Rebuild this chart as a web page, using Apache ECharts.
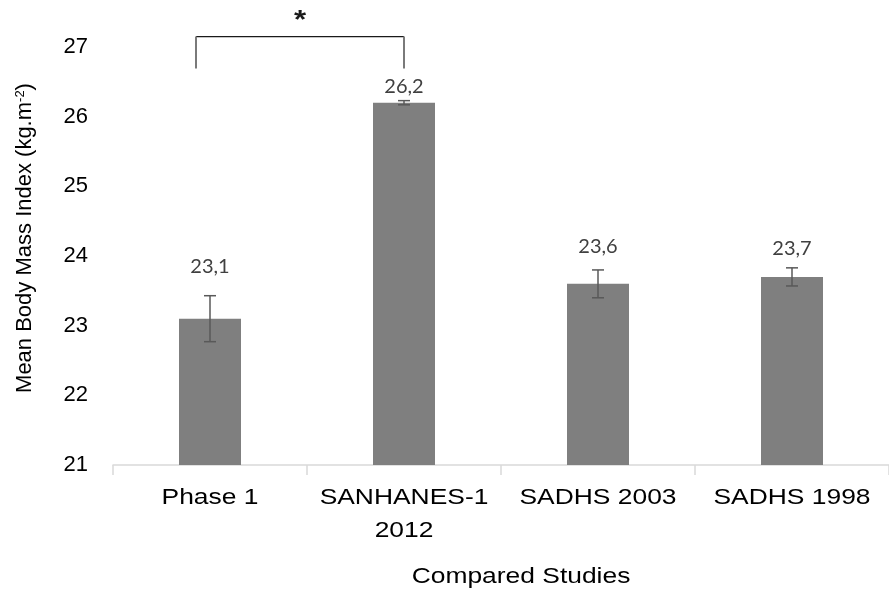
<!DOCTYPE html>
<html>
<head>
<meta charset="utf-8">
<script src="https://cdn.jsdelivr.net/npm/echarts@6/dist/echarts.min.js"></script>
<style>
  html, body { margin: 0; padding: 0; background: #ffffff; }
  #chart { width: 889px; height: 594px; }
</style>
</head>
<body>
<div id="chart"></div>
<script>
// Study names shown along the category axis
const studies = ['Phase 1', 'SANHANES-1\n2012', 'SADHS 2003', 'SADHS 1998'];
// Mean BMI per study (kg.m-2)
const meanBmi = [23.1, 26.2, 23.6, 23.7];
// Half-width of the error bar for each study
const bmiError = [0.33, 0.03, 0.2, 0.13];
// Value-axis range and step
const yMin = 21;
const yMax = 27;
const yStep = 1;
// Significance bracket between Phase 1 and SANHANES-1 2012
const bracketPair = [0, 1];
const bracketMark = '*';
const xTitle = 'Compared Studies';

// Gap (px) between each bar top and its value label
const labelLift = [42, 6, 27, 18];

const FONT = '"Liberation Sans", Arial, sans-serif';
const WIDE = 1.2; // horizontal stretch of the horizontal captions
const chart = echarts.init(document.getElementById('chart'), null, { renderer: 'canvas' });

const barData = meanBmi.map((v, i) => ({
  value: v,
  label: { distance: labelLift[i] }
}));
const errData = meanBmi.map((v, i) => [i, v - bmiError[i], v + bmiError[i]]);

chart.setOption({
  animation: false,
  backgroundColor: '#ffffff',
  grid: { left: 113, right: -8, top: 47, bottom: 129, containLabel: false },
  xAxis: {
    type: 'category',
    data: studies,
    boundaryGap: true,
    axisLine: { show: true, lineStyle: { color: '#d9d9d9', width: 1.5 } },
    axisTick: { show: true, alignWithLabel: false, length: 10, lineStyle: { color: '#d9d9d9', width: 1.5 } },
    axisLabel: { show: false },
    splitLine: { show: false }
  },
  yAxis: {
    type: 'value',
    min: yMin,
    max: yMax,
    interval: yStep,
    axisLine: { show: false },
    axisTick: { show: false },
    splitLine: { show: false },
    axisLabel: { fontFamily: FONT, fontSize: 22, color: '#000000', margin: 25 }
  },
  series: [
    {
      type: 'bar',
      data: barData,
      barWidth: 62,
      itemStyle: { color: '#7f7f7f' },
      label: {
        show: true,
        position: 'top',
        fontFamily: 'Lato, "Open Sans", sans-serif',
        fontSize: 20,
        color: '#404040',
        formatter: p => p.value.toFixed(1).replace('.', ',')
      },
      z: 2
    },
    {
      type: 'custom',
      data: errData,
      z: 3,
      renderItem: function (params, api) {
        const x = api.value(0);
        const lo = api.coord([x, api.value(1)]);
        const hi = api.coord([x, api.value(2)]);
        const cap = 6;
        const style = { stroke: '#595959', lineWidth: 1.5 };
        return {
          type: 'group',
          children: [
            { type: 'line', shape: { x1: hi[0], y1: hi[1], x2: lo[0], y2: lo[1] }, style: style },
            { type: 'line', shape: { x1: hi[0] - cap, y1: hi[1], x2: hi[0] + cap, y2: hi[1] }, style: style },
            { type: 'line', shape: { x1: lo[0] - cap, y1: lo[1], x2: lo[0] + cap, y2: lo[1] }, style: style }
          ]
        };
      }
    }
  ]
});

// Category captions, axis titles, significance bracket and marker
function drawOverlay() {
  const axisY = chart.convertToPixel({ yAxisIndex: 0 }, yMin);
  const captions = studies.map((name, i) => ({
    type: 'text',
    x: chart.convertToPixel({ xAxisIndex: 0 }, i),
    y: axisY + 16,
    scaleX: WIDE,
    style: {
      text: name, fontFamily: FONT, fontSize: 22, lineHeight: 33, fill: '#000000',
      align: 'center', verticalAlign: 'top'
    }
  }));

  const a = chart.convertToPixel({ xAxisIndex: 0 }, bracketPair[0]);
  const b = chart.convertToPixel({ xAxisIndex: 0 }, bracketPair[1]);
  const left = a - 14;
  const right = b;
  const topY = chart.convertToPixel({ yAxisIndex: 0 }, 27.15);
  const footY = chart.convertToPixel({ yAxisIndex: 0 }, 26.69);

  chart.setOption({
    graphic: captions.concat([
      { type: 'line', shape: { x1: left, y1: topY, x2: right, y2: topY }, style: { stroke: '#1a1a1a', lineWidth: 1.3 } },
      { type: 'line', shape: { x1: left, y1: topY, x2: left, y2: footY }, style: { stroke: '#7a7a7a', lineWidth: 2 } },
      { type: 'line', shape: { x1: right, y1: topY, x2: right, y2: footY }, style: { stroke: '#7a7a7a', lineWidth: 2 } },
      {
        type: 'text', x: (left + right) / 2, y: topY - 16, scaleX: WIDE,
        style: { text: bracketMark, fontFamily: FONT, fontSize: 26, fontWeight: 'bold', fill: '#1a1a1a', align: 'center', verticalAlign: 'middle' }
      },
      {
        type: 'text', x: 521, y: 577, scaleX: WIDE,
        style: { text: xTitle, fontFamily: FONT, fontSize: 22, fill: '#000000', align: 'center', verticalAlign: 'middle' }
      },
      {
        type: 'text', x: 25, y: 238, rotation: Math.PI / 2,
        style: {
          text: '{t|Mean Body Mass Index (kg.m}{s|-2}{t|)}',
          align: 'center', verticalAlign: 'middle',
          rich: {
            t: { fontFamily: FONT, fontSize: 22, fill: '#000000', color: '#000000' },
            s: { fontFamily: FONT, fontSize: 13, fill: '#000000', color: '#000000', verticalAlign: 'top', padding: [0, 0, 9, 0] }
          }
        }
      }
    ])
  });
}
drawOverlay();
</script>
</body>
</html>
